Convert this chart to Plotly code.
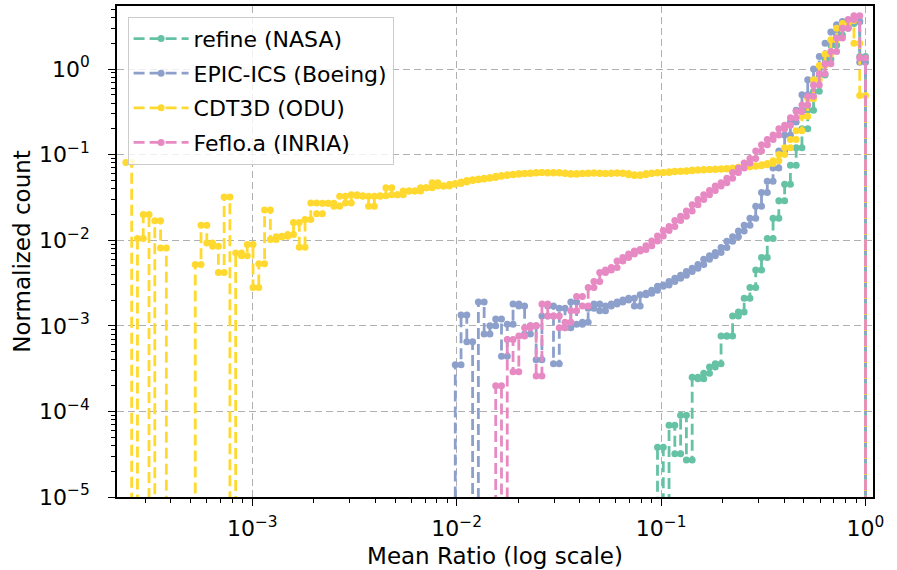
import numpy as np
import plotly.graph_objects as go

# ---------------- data ----------------
# log-spaced histogram bins of the mean ratio
BIN_FIRST_EDGE = 2.41e-4
BIN_LAST_EDGE = 1.0
N_BINS = 128

series_names = ["refine (NASA)", "EPIC-ICS (Boeing)", "CDT3D (ODU)", "Feflo.a (INRIA)"]
series_colors = ["#66c2a5", "#8da0cb", "#ffd92f", "#e78ac3"]

# normalized counts per bin (0 = empty bin); first_bin = index of the first listed bin
refine_first_bin = 92
refine_counts = [3.8e-5, 0, 6.9e-5, 3.2e-5, 9.0e-5, 2.7e-5, 2.5e-4, 2.4e-4, 2.8e-4, 3.3e-4,
                 3.6e-4, 7.6e-4, 7.6e-4, 0.0013, 0.00145, 0.0021, 0.0028, 0.0045, 0.0063, 0.0105,
                 0.018, 0.029, 0.045, 0.075, 0.12, 0.2, 0.33, 0.55, 0.85, 1.3,
                 1.9, 2.5, 3.0, 3.4, 3.6, 1.4]

epic_first_bin = 57
epic_counts = [0.00035, 0.00134, 0.00065, 0, 0.0019, 0.0008, 0.001, 0.0012, 0.00044, 0.00104,
               0.0018, 0.0017, 0.0008, 0.001, 0.0004, 0.0013, 0.0017, 0.00036, 0.0016, 0.00095,
               0.0019, 0.00104, 0.0011, 0.0016, 0.0018, 0.0015, 0.0017, 0.0018, 0.0019, 0.002,
               0.0021, 0.0017,
               0.0023, 0.0024, 0.0026, 0.0029, 0.003, 0.0033, 0.0036, 0.0039, 0.0043, 0.0047,
               0.0052, 0.006, 0.0066, 0.0072, 0.0082, 0.0097, 0.011, 0.0128, 0.015, 0.018,
               0.025, 0.036, 0.049,
               0.07, 0.11, 0.17, 0.24, 0.33, 0.5, 0.75, 1.0, 1.4, 2.0,
               2.7, 3.3, 3.6, 3.7, 3.6, 1.2]

cdt3d_first_bin = 0
cdt3d_counts = [0.081, 0, 0.0105, 0.020, 0, 0.0169, 0.0081, 0, 0, 0,
                0, 0, 0.0052, 0.015, 0.0093, 0.0085, 0.0042, 0.032, 0, 0.0071,
                0.0066, 0.0089, 0.0028, 0.0053, 0.0225, 0.0102, 0.011, 0.0111, 0.0117, 0.0161,
                0.0083, 0.0175, 0.0273, 0.0204, 0.027, 0.027, 0.025, 0.0326, 0.0273, 0.034,
                0.033, 0.0326, 0.025, 0.0326, 0.033, 0.0409, 0.034, 0.034, 0.0375, 0.0375,
                0.0375, 0.041, 0.041, 0.047, 0.043, 0.043, 0.045, 0.046, 0.048, 0.05,
                0.051, 0.052, 0.053, 0.054, 0.056, 0.057, 0.058, 0.059, 0.06, 0.06,
                0.061, 0.062, 0.062, 0.061, 0.062, 0.061, 0.06, 0.059, 0.06, 0.06,
                0.061, 0.061, 0.06, 0.06, 0.061, 0.061, 0.06, 0.058, 0.057, 0.058,
                0.06, 0.061, 0.062, 0.062, 0.063, 0.064, 0.064, 0.065, 0.066, 0.066,
                0.067, 0.067, 0.068, 0.068, 0.069, 0.07, 0.071, 0.072, 0.073, 0.074,
                0.076, 0.079, 0.085, 0.1, 0.12, 0.15, 0.19, 0.28, 0.45, 0.75,
                1.1, 1.5, 2.2, 3.0, 3.4, 3.7, 2.0, 0.49]

feflo_first_bin = 64
feflo_counts = [2.0e-4, 0, 6.9e-4, 2.9e-4, 7.6e-4, 9.5e-4, 0.001, 2.6e-4, 0.0018, 0.0013,
                0.0013, 9.5e-4, 0.0011, 0.0015, 0.0022, 0.0017, 0.0028, 0.0033, 0.0042, 0.0045,
                0.0048, 0.0057, 0.0063, 0.0069, 0.0075, 0.0078, 0.0086, 0.0098, 0.0112, 0.013,
                0.0145, 0.017, 0.019, 0.022, 0.026, 0.03, 0.034, 0.038, 0.043, 0.047,
                0.053, 0.062, 0.07, 0.08, 0.09, 0.11, 0.13, 0.15, 0.17, 0.2,
                0.22, 0.27, 0.32, 0.38, 0.48, 0.65, 0.88, 1.15, 1.6, 2.3,
                3.0, 3.8, 4.2, 1.35]

x_tick_vals = [1e-3, 1e-2, 1e-1, 1e0]
x_tick_text = ["10<sup>\u22123</sup>", "10<sup>\u22122</sup>", "10<sup>\u22121</sup>", "10<sup>0</sup>"]
y_tick_vals = [1e-5, 1e-4, 1e-3, 1e-2, 1e-1, 1e0]
y_tick_text = ["10<sup>\u22125</sup>", "10<sup>\u22124</sup>", "10<sup>\u22123</sup>",
               "10<sup>\u22122</sup>", "10<sup>\u22121</sup>", "10<sup>0</sup>"]

x_title = "Mean Ratio (log scale)"
y_title = "Normalized count"

# ---------------- build ----------------
edges = np.logspace(np.log10(BIN_FIRST_EDGE), np.log10(BIN_LAST_EDGE), N_BINS + 1)
FLOOR = 1e-12  # empty bins drop below the axis (like matplotlib's clipping of zeros on log scale)


def full_counts(first, counts):
    arr = np.zeros(N_BINS)
    arr[first:first + len(counts)] = counts
    return arr


def step_xy(counts):
    c = np.where(counts > 0, counts, FLOOR)
    x = np.repeat(edges, 2)[1:-1]
    y = np.repeat(c, 2)
    x = np.append(x, edges[-1])
    y = np.append(y, FLOOR)
    return x, y


all_series = [
    full_counts(refine_first_bin, refine_counts),
    full_counts(epic_first_bin, epic_counts),
    full_counts(cdt3d_first_bin, cdt3d_counts),
    full_counts(feflo_first_bin, feflo_counts),
]

fig = go.Figure()
for name, color, counts in zip(series_names, series_colors, all_series):
    x, y = step_xy(counts)
    fig.add_trace(go.Scatter(
        x=x, y=y, name=name, mode="lines+markers",
        line=dict(color=color, width=2.8, dash="11px,5px"),
        marker=dict(color=color, size=7, symbol="circle"),
        legendgroup=name, cliponaxis=True,
    ))

minor_vals = [m * 10.0 ** e for e in range(-6, 1) for m in range(2, 10)]

axis_common = dict(
    type="log", showline=True, linewidth=1.6, linecolor="black", mirror=True,
    ticks="outside", ticklen=7, tickwidth=1.4, tickcolor="black",
    showgrid=True, gridcolor="#b0b0b0", griddash="7px,4px", gridwidth=1.4,
    zeroline=False, tickmode="array",
    minor=dict(tickmode="array", tickvals=minor_vals, ticks="outside", ticklen=4,
               tickwidth=1.0, tickcolor="black", showgrid=False),
    tickfont=dict(size=22),
)

fig.update_xaxes(**axis_common, range=[np.log10(2.18e-4), np.log10(1.088)],
                 tickvals=x_tick_vals, ticktext=x_tick_text, ticklabelstandoff=4,
                 title=dict(text=x_title, font=dict(size=23), standoff=8))
fig.update_yaxes(**axis_common, range=[-5, np.log10(5.45)],
                 tickvals=y_tick_vals, ticktext=y_tick_text, ticklabelstandoff=14,
                 title=dict(text=y_title, font=dict(size=23), standoff=2))

fig.update_layout(
    width=897, height=570,
    margin=dict(l=117, r=24, t=4, b=73),
    paper_bgcolor="white", plot_bgcolor="white",
    font=dict(family="DejaVu Sans", size=22, color="black"),
    legend=dict(x=0.014, y=0.978, xanchor="left", yanchor="top",
                bgcolor="rgba(255,255,255,0.8)", bordercolor="#cccccc", borderwidth=1,
                font=dict(size=22), tracegroupgap=3, itemwidth=55),
)

fig.write_html("out.html")
